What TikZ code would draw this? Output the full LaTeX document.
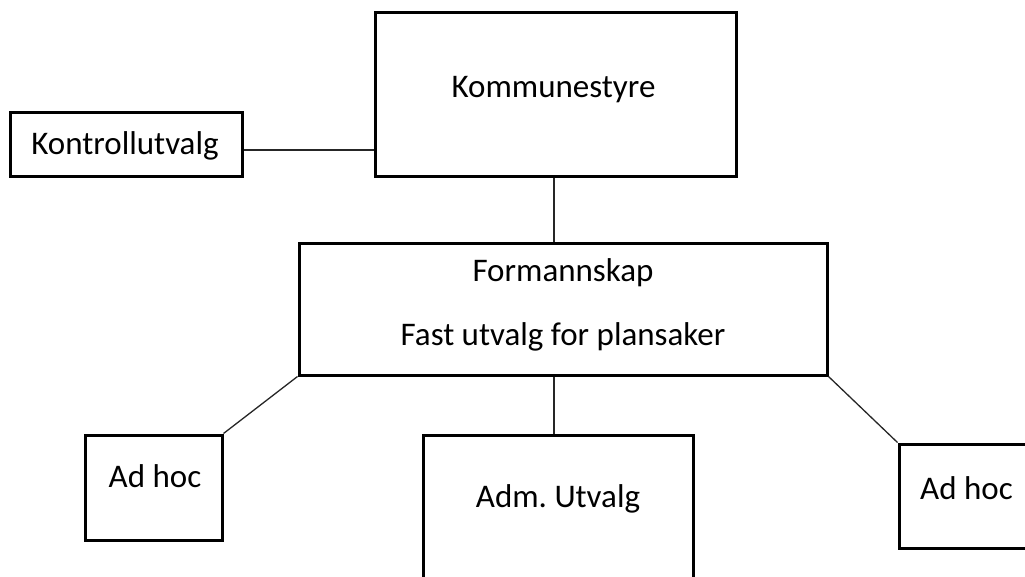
\documentclass[tikz,border=0pt]{standalone}
\usepackage{fontspec}
\setmainfont{Carlito}
\frenchspacing
\begin{document}
\begin{tikzpicture}[x=1pt,y=-1pt,
  box/.style={draw=black,line width=3pt,fill=white,inner sep=0pt},
  lbl/.style={anchor=base,inner sep=0pt,font=\fontsize{33}{40}\selectfont},
  conn/.style={draw=black!85,line width=1.3pt}]
\useasboundingbox (0,0) rectangle (1025,577);
\clip (0,0) rectangle (1025,577);
% boxes
\node[box,minimum width=361pt,minimum height=164pt] (ks) at (555.5,95) {};
\node[box,minimum width=232pt,minimum height=64pt] (ku) at (126,145) {};
\node[box,minimum width=528pt,minimum height=131pt] (fm) at (563,309.5) {};
\node[box,minimum width=137pt,minimum height=105pt] (ah1) at (153.5,487.5) {};
\node[box,minimum width=270pt,minimum height=180pt] (adm) at (558,525) {};
\node[box,minimum width=150pt,minimum height=104pt] (ah2) at (974,496) {};
% texts
\node[lbl] (tks) at (553.5,98) {Kommunestyre};
\node[lbl] (tku) at (125,155) {Kontrollutvalg};
\node[lbl] (tfm1) at (563,282) {Formannskap};
\node[lbl] (tfm2) at (563,345) {Fast utvalg for plansaker};
\node[lbl] (tah1) at (155,487) {Ad hoc};
\node[lbl] (tadm) at (558,507) {Adm.\ Utvalg};
\node[lbl] (tah2) at (966.5,499) {Ad hoc};
% connectors
\draw[conn] ([yshift=-5pt]ku.east) -- ([yshift=-5pt]ku.east -| ks.west);
\draw[conn] ([xshift=-1.5pt]ks.south) -- ([xshift=-1.5pt]ks.south |- fm.north);
\draw[conn] (fm.south west) -- (ah1.north east);
\draw[conn] ([xshift=-9pt]fm.south) -- ([xshift=-9pt]fm.south |- adm.north);
\draw[conn] (fm.south east) -- (ah2.north west);
\end{tikzpicture}
\end{document}
